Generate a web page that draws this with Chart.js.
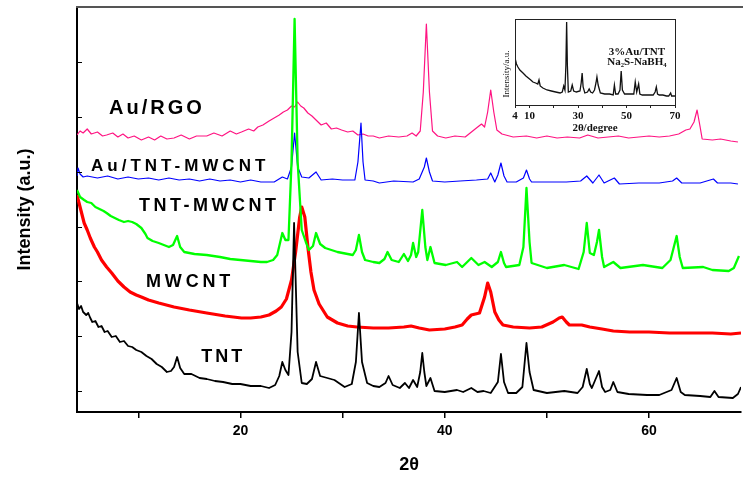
<!DOCTYPE html>
<html lang="en">
<head>
<meta charset="UTF-8">
<title>XRD patterns</title>
<script src="https://cdn.jsdelivr.net/npm/chart.js@4"></script>
<style>
  body { margin: 0; background: #fff; }
  #wrap { position: relative; width: 743px; height: 483px; }
  #inset { position: absolute; left: 480px; top: 8px; }
</style>
</head>
<body>
<div id="wrap">
  <canvas id="main" width="743" height="483"></canvas>
  <canvas id="inset" width="215" height="130"></canvas>
</div>
<script>
// x ticks (2theta) and which of them get a label
const xTicks = [10, 20, 30, 40, 50, 60];
const xLabels = [20, 40, 60];
// y ticks (no labels, stacked offsets in a.u.)
const yTicks = [21, 76, 131, 185, 240, 295, 350];

// [2theta, intensity] (already offset/stacked)
const tnt = [[4,109],[4.2,103],[4.4,106],[4.6,100],[4.9,97],[5.1,99],[5.3,94],[5.5,90],[5.8,91],[6.1,85],[6.4,86],[6.7,80],[7.0,81],[7.4,75],[7.8,76],[8.2,70],[8.6,71],[9.0,66],[9.4,65],[9.8,62],[10.3,60],[10.8,56],[11.3,53],[11.8,48],[12.3,45],[12.8,40],[13.2,41],[13.5,45],[13.8,55],[14.1,44],[14.5,38],[15.2,38],[16,34],[16.7,33],[17.5,31],[18.3,30],[19.2,28],[20,28],[21,26],[22,26],[22.8,24],[23.4,27],[23.8,36],[24.1,50],[24.4,42],[24.7,37],[25.0,80],[25.25,189],[25.6,60],[26.0,29],[26.5,28],[27.0,33],[27.4,50],[27.8,36],[28.5,34],[29.2,32],[30.2,25],[30.9,28],[31.3,50],[31.6,99],[31.9,50],[32.4,29],[33.0,26],[33.6,25],[34.2,29],[34.5,36],[34.9,27],[35.6,24],[36.1,29],[36.5,24],[36.9,32],[37.3,25],[37.6,40],[37.8,59],[38.0,40],[38.2,26],[38.6,34],[39.0,21],[40,20],[41.2,22],[41.8,20],[42.6,24],[43.2,20],[43.8,21],[44.5,19],[45.2,30],[45.5,58],[45.8,30],[46.2,19],[47,19],[47.6,25],[48.0,69],[48.3,40],[48.7,22],[50,19],[51.7,21],[53,19],[53.5,25],[53.9,43],[54.2,28],[54.4,24],[55.1,41],[55.4,25],[55.7,20],[56.2,22],[56.5,30],[56.9,20],[58,18],[59.8,17],[61,17],[62.2,22],[62.7,34],[63.1,20],[63.5,17],[65,16],[66.0,15],[66.4,21],[66.8,15],[68.2,14],[68.7,18],[69,25]];

const mwcnt = [[4,217],[4.3,205],[4.7,189],[5.0,182],[5.3,174],[5.7,165],[6.0,160],[6.4,152],[6.9,145],[7.4,139],[8.0,131],[8.6,125],[9.2,120],[9.8,117],[10.3,115],[11,112],[12,109],[13.5,105],[15,102],[16.7,99],[18.5,96],[20.1,94],[21,94],[22,95],[22.8,97],[23.5,101],[24,105],[24.5,113],[25,132],[25.4,160],[25.8,195],[26.0,205],[26.3,195],[26.6,165],[26.9,140],[27.2,122],[27.7,108],[28.5,95],[29.5,89],[30.5,86],[31.4,85],[33,84],[34.5,84],[36,85],[36.7,86],[37.5,84],[38.5,82],[40,83],[41,85],[41.7,87],[42.2,93],[42.6,97],[43.4,99],[43.9,115],[44.2,129],[44.5,120],[44.9,100],[45.3,92],[45.7,87],[46.7,85],[48.3,84],[49.5,85],[50.6,90],[51.2,94],[51.5,95],[51.9,90],[52.2,87],[52.8,87],[53.4,87],[54.2,85],[55.4,83],[56.5,81],[58.1,80],[60,80],[62,79],[64,79],[66.2,79],[68,78],[69,79]];

const tntMwcnt = [[4,222],[4.3,215],[4.7,212],[5.0,210],[5.4,209],[5.8,205],[6.2,203],[6.6,201],[6.9,199],[7.3,196],[7.7,194],[8.1,192],[8.6,190],[9.0,191],[9.4,190],[9.8,188],[10.3,184],[10.7,178],[10.9,174],[11.4,171],[12,169],[12.5,167],[13.0,165],[13.4,167],[13.8,176],[14.1,165],[14.5,160],[15.5,158],[16.7,157],[18,155],[19,153],[20,152],[21,151],[22,150],[22.6,150],[23.2,152],[23.6,157],[24.1,179],[24.4,172],[24.7,172],[25.0,250],[25.3,393],[25.6,250],[26.0,182],[26.4,170],[26.7,162],[27.1,166],[27.4,179],[27.8,168],[28.3,164],[29.5,160],[31,157],[31.3,162],[31.6,177],[31.9,160],[32.2,152],[33,150],[33.6,149],[34.1,153],[34.4,160],[34.8,152],[35.5,150],[36.0,158],[36.4,151],[36.7,157],[36.9,169],[37.2,155],[37.4,160],[37.8,202],[38.1,165],[38.3,152],[38.6,165],[39,149],[40.1,147],[41.2,150],[41.7,145],[42.6,154],[43.3,147],[43.9,150],[44.6,145],[45.2,150],[45.5,160],[45.8,149],[46,145],[47.3,147],[47.7,165],[48.0,224],[48.3,170],[48.5,149],[50,144],[51.7,147],[53.1,143],[53.6,160],[53.9,189],[54.2,159],[54.6,157],[54.9,170],[55.1,182],[55.4,155],[55.6,145],[56.5,150],[57.2,144],[59.4,147],[61.3,144],[62.1,152],[62.7,176],[63.0,155],[63.3,144],[65.3,145],[66.2,142],[67.8,141],[68.3,144],[68.8,156]];

const auTntMwcnt = [[4,236],[4.1,244],[4.3,238],[4.6,235],[5,236],[6,234],[7,236],[8,233],[9,235],[10,233],[11,234],[12,232],[13,234],[14,232],[15,233],[16,231],[17,233],[18,231],[19,232],[20,230],[21,232],[22,230],[23.3,230],[24.1,235],[24.6,233],[25.0,245],[25.3,279],[25.6,245],[26.0,235],[26.7,234],[27.4,240],[27.9,232],[29,233],[30,232],[31.2,232],[31.5,250],[31.8,289],[32.0,250],[32.2,232],[33,231],[33.6,229],[35,231],[36.9,230],[37.5,233],[38.0,245],[38.2,254],[38.5,240],[38.8,231],[40,230],[41.5,231],[43.1,232],[44.2,233],[44.5,239],[44.9,230],[45.2,237],[45.5,249],[45.8,236],[46.1,230],[47,230],[47.7,234],[48.0,242],[48.3,233],[48.5,230],[50,230],[51.9,230],[53.3,231],[53.9,236],[54.5,229],[55.1,237],[55.6,229],[56.6,234],[57.1,228],[59,229],[61,229],[62.3,231],[62.7,234],[63.2,229],[65,229],[66.3,233],[66.7,229],[68,229],[68.7,228]];

const auRgo = [[4,277],[4.3,281],[4.6,279],[5,283],[5.4,278],[6,280],[6.5,276],[6.9,277],[7.5,279],[8,275],[8.5,278],[9,274],[9.6,276],[10.3,272],[11,275],[11.6,272],[12.2,276],[12.8,273],[13.5,274],[14.2,277],[15,273],[15.7,276],[16.7,276],[17.4,279],[18.2,276],[19,281],[19.6,278],[20.1,280],[20.8,283],[21.3,281],[21.7,285],[22.2,287],[22.8,291],[23.3,294],[23.8,297],[24.2,300],[24.6,302],[25.0,306],[25.3,305],[25.6,310],[25.9,306],[26.2,304],[26.6,299],[27,296],[27.4,292],[27.9,287],[28.4,289],[28.9,283],[29.4,284],[29.9,282],[30.5,280],[31,281],[31.5,277],[32,278],[32.5,276],[33,276],[33.6,274],[34.5,276],[35.5,275],[36.3,276],[36.8,279],[37.2,276],[37.6,281],[37.9,320],[38.2,388],[38.5,320],[38.8,281],[39.3,276],[40.1,274],[41,276],[42,275],[43.1,284],[43.6,288],[43.9,285],[44.2,300],[44.5,322],[44.8,300],[45.1,282],[45.6,278],[46.7,275],[48,276],[49,274],[50,276],[51,274],[52,275],[53.2,274],[54,277],[55,274],[56,275],[57,276],[58,274],[59,275],[60,276],[61,275],[62,276],[62.9,278],[63.6,282],[64,283],[64.4,290],[64.7,302],[65.0,285],[65.2,273],[66.2,272],[67,273],[68,271],[68.7,270]];

// inset: 3%Au/TNT, Na2S-NaBH4
const insetTicks = [4, 10, 20, 30, 40, 50, 60, 70];
const insetLabels = [4, 10, 30, 50, 70];
const insetData = [[4.2,45],[4.6,41],[5.2,38],[6,35],[7.3,32],[8.5,29],[9.5,27],[10.5,25],[11.4,23],[12.5,22],[13.4,21],[13.9,25],[14.4,19],[15.5,17],[17.2,15],[19,14],[20.8,13],[22.6,12],[23.5,13],[24.1,19],[24.6,15],[25.0,40],[25.3,83],[25.6,40],[26,13],[27.0,14],[27.6,20],[28.2,14],[29.3,13],[30.8,14],[31.3,22],[31.7,32],[32.1,18],[32.8,12],[33.9,13],[34.6,16],[35.2,13],[36,12],[36.8,15],[37.4,22],[37.8,28],[38.3,20],[39.2,12],[41,11],[43,11],[44.5,10],[45,20],[45.5,11],[46.5,11],[47.3,15],[47.8,34],[48.3,15],[49.2,11],[51,11],[53,11],[53.6,23],[54.2,13],[55,21],[55.5,11],[56.5,10],[59,10],[61,10],[61.8,13],[62.3,18],[62.8,11],[63.5,10],[65,10],[66.5,9],[67.4,9],[68.2,12],[68.6,9],[69.3,9],[70,9]];

const sans = 'Arial, "Liberation Sans", sans-serif';
const serif = '"Times New Roman", "Liberation Serif", "DejaVu Serif", serif';

const pts = arr => arr.map(p => ({ x: p[0], y: p[1] }));

// series labels: text, anchor in data units, font size, letter spacing
const seriesLabels = [
  { text: 'Au/RGO', x: 7.14, y: 304, size: 20, ls: 3 },
  { text: 'Au/TNT-MWCNT', x: 5.37, y: 246, size: 17, ls: 4 },
  { text: 'TNT-MWCNT', x: 10.08, y: 206, size: 18, ls: 3.5 },
  { text: 'MWCNT', x: 10.76, y: 130, size: 18, ls: 3.8 },
  { text: 'TNT', x: 16.16, y: 55, size: 18, ls: 3 }
];

const mainDecor = {
  id: 'mainDecor',
  afterDraw(chart) {
    const { ctx, chartArea: a, scales: { x, y } } = chart;
    ctx.save();
    // top frame line
    ctx.strokeStyle = '#555';
    ctx.lineWidth = 2;
    ctx.beginPath();
    ctx.moveTo(a.left - 1, a.top);
    ctx.lineTo(a.right + 2, a.top);
    ctx.stroke();
    // inward ticks on y axis
    ctx.strokeStyle = '#000';
    ctx.lineWidth = 1;
    yTicks.forEach(v => {
      const py = Math.round(y.getPixelForValue(v)) + 0.5;
      ctx.beginPath();
      ctx.moveTo(a.left, py);
      ctx.lineTo(a.left + 5, py);
      ctx.stroke();
    });
    // series names
    ctx.fillStyle = '#000';
    ctx.textAlign = 'left';
    ctx.textBaseline = 'middle';
    seriesLabels.forEach(l => {
      ctx.font = 'bold ' + l.size + 'px ' + sans;
      ctx.letterSpacing = l.ls + 'px';
      ctx.fillText(l.text, x.getPixelForValue(l.x), y.getPixelForValue(l.y));
    });
    ctx.restore();
  }
};

new Chart(document.getElementById('main'), {
  type: 'line',
  data: {
    datasets: [
      { label: 'TNT-MWCNT', data: pts(tntMwcnt), borderColor: '#00ff00', borderWidth: 2.3 },
      { label: 'TNT', data: pts(tnt), borderColor: '#000000', borderWidth: 1.8 },
      { label: 'MWCNT', data: pts(mwcnt), borderColor: '#ff0000', borderWidth: 3.2 },
      { label: 'Au/TNT-MWCNT', data: pts(auTntMwcnt), borderColor: '#0000ff', borderWidth: 1.2 },
      { label: 'Au/RGO', data: pts(auRgo), borderColor: '#ff1482', borderWidth: 1.2 }
    ]
  },
  options: {
    responsive: false,
    animation: false,
    layout: { padding: { top: 7, right: 2, left: 0, bottom: 0 } },
    plugins: { legend: { display: false }, tooltip: { enabled: false } },
    elements: { point: { radius: 0 }, line: { tension: 0, borderJoinStyle: 'round' } },
    scales: {
      x: {
        type: 'linear', min: 4, max: 69,
        afterBuildTicks: s => { s.ticks = xTicks.map(v => ({ value: v })); },
        afterFit: s => { s.height = 71; },
        ticks: {
          autoSkip: false, maxRotation: 0, padding: 5, color: '#000',
          font: { family: sans, size: 14, weight: 'bold' },
          callback: v => xLabels.includes(v) ? String(v) : ''
        },
        grid: { drawOnChartArea: false, tickLength: 6, color: '#000', lineWidth: 1.5 },
        border: { color: '#000', width: 2 },
        title: {
          display: true, text: '2θ', color: '#000',
          font: { family: sans, size: 18, weight: 'bold' },
          padding: { top: 0, bottom: 7 }
        }
      },
      y: {
        type: 'linear', min: 0, max: 405,
        afterFit: s => { s.width = 77; },
        ticks: { display: false },
        grid: { drawOnChartArea: false, drawTicks: false },
        border: { color: '#000', width: 2 },
        title: {
          display: true, text: 'Intensity (a.u.)', color: '#000',
          font: { family: sans, size: 18, weight: 'bold' },
          padding: { top: 14, bottom: 0 }
        }
      }
    }
  },
  plugins: [mainDecor]
});

const insetDecor = {
  id: 'insetDecor',
  afterDraw(chart) {
    const { ctx, chartArea: a, scales: { x } } = chart;
    ctx.save();
    ctx.strokeStyle = '#222';
    ctx.lineWidth = 1;
    ctx.strokeRect(a.left + 0.5, a.top + 0.5, a.right - a.left, a.bottom - a.top);
    ctx.fillStyle = '#111';
    ctx.textAlign = 'center';
    ctx.textBaseline = 'middle';
    ctx.font = 'bold 11px ' + serif;
    ctx.fillText('3%Au/TNT', x.getPixelForValue(54.3), 44);
    ctx.fillText('Na\u2082S-NaBH\u2084', x.getPixelForValue(54.3), 54);
    ctx.translate(27, 66);
    ctx.rotate(-Math.PI / 2);
    ctx.font = '9px ' + serif;
    ctx.fillText('Intensity/a.u.', 0, 0);
    ctx.restore();
  }
};

new Chart(document.getElementById('inset'), {
  type: 'line',
  data: {
    datasets: [{ data: pts(insetData), borderColor: '#111', borderWidth: 1.3 }]
  },
  options: {
    responsive: false,
    animation: false,
    layout: { padding: { top: 11, right: 20, left: 0, bottom: 0 } },
    plugins: { legend: { display: false }, tooltip: { enabled: false } },
    elements: { point: { radius: 0 }, line: { tension: 0 } },
    scales: {
      x: {
        type: 'linear', min: 4, max: 70,
        afterBuildTicks: s => { s.ticks = insetTicks.map(v => ({ value: v })); },
        afterFit: s => { s.height = 33; },
        ticks: {
          autoSkip: false, maxRotation: 0, padding: 2, color: '#111',
          font: { family: serif, size: 11, weight: 'bold' },
          callback: v => insetLabels.includes(v) ? String(v) : ''
        },
        grid: { drawOnChartArea: false, tickLength: 3, color: '#222' },
        border: { color: '#222', width: 1 },
        title: {
          display: true, text: '2θ/degree', color: '#111',
          font: { family: serif, size: 11, weight: 'bold' },
          padding: { top: 0, bottom: 3 }
        }
      },
      y: {
        type: 'linear', min: 0, max: 86,
        afterFit: s => { s.width = 35; },
        ticks: { display: false },
        grid: { drawOnChartArea: false, drawTicks: false },
        border: { color: '#222', width: 1 }
      }
    }
  },
  plugins: [insetDecor]
});
</script>
</body>
</html>
